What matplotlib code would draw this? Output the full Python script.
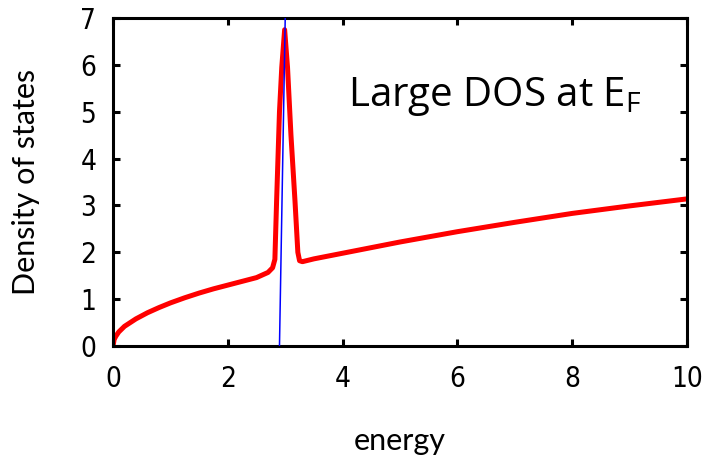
import matplotlib
matplotlib.use("Agg")
import matplotlib.pyplot as plt

# Red DOS curve
energy = [0.0, 0.02, 0.05, 0.1, 0.2, 0.4, 0.6, 0.8, 1.0, 1.25, 1.5, 1.75, 2.0, 2.25, 2.5,
          2.7, 2.78, 2.82, 2.85, 2.90, 2.94, 2.99, 3.04, 3.10, 3.17, 3.22, 3.25, 3.3,
          3.5, 4.0, 5.0, 6.0, 7.0, 8.0, 9.0, 10.0]
dos = [0.0, 0.14, 0.21, 0.30, 0.42, 0.58, 0.71, 0.82, 0.92, 1.03, 1.13, 1.22, 1.30, 1.38, 1.46,
       1.57, 1.67, 1.85, 3.1, 5.0, 5.95, 6.75, 5.95, 4.5, 3.1, 2.0, 1.82, 1.80,
       1.86, 1.98, 2.22, 2.44, 2.64, 2.83, 2.99, 3.14]

# Blue Fermi-level line
ef_x = [2.90, 3.00]
ef_y = [0.0, 7.0]

xticks = [0, 2, 4, 6, 8, 10]
yticks = [0, 1, 2, 3, 4, 5, 6, 7]

fig = plt.figure(figsize=(7.09, 4.58), dpi=100)
ax = fig.add_axes([0.1594, 0.2445, 0.8096, 0.7162])

ax.plot(energy, dos, color="#ff0000", lw=3.6, solid_joinstyle="round",
        solid_capstyle="round", zorder=2)
ax.plot(ef_x, ef_y, color="#0000ff", lw=1.1, zorder=3)

ax.set_xlim(0, 10)
ax.set_ylim(0, 7)
ax.set_xticks(xticks)
ax.set_yticks(yticks)
ax.set_xticklabels([str(v) for v in xticks])
ax.set_yticklabels([str(v) for v in yticks])

for s in ax.spines.values():
    s.set_linewidth(2.2)
ax.tick_params(direction="in", length=5, width=2.2, top=True, right=True,
               labelsize=20, pad=12)
ax.tick_params(axis="x", pad=14)
for lab in ax.get_xticklabels() + ax.get_yticklabels():
    lab.set_fontfamily("DejaVu Sans")
    lab.set_fontstretch("condensed")

ax.set_xlabel("energy", fontfamily="Lato", fontsize=22, labelpad=24)
ax.set_ylabel("Density of states", fontfamily="Lato", fontsize=22, labelpad=29)

plt.rcParams["mathtext.fontset"] = "custom"
ax.text(0.41, 0.76, r"Large DOS at E$_\mathregular{F}$", transform=ax.transAxes,
        fontfamily="Open Sans", fontsize=29, ha="left", va="center")

fig.savefig("out.png", dpi=100)
